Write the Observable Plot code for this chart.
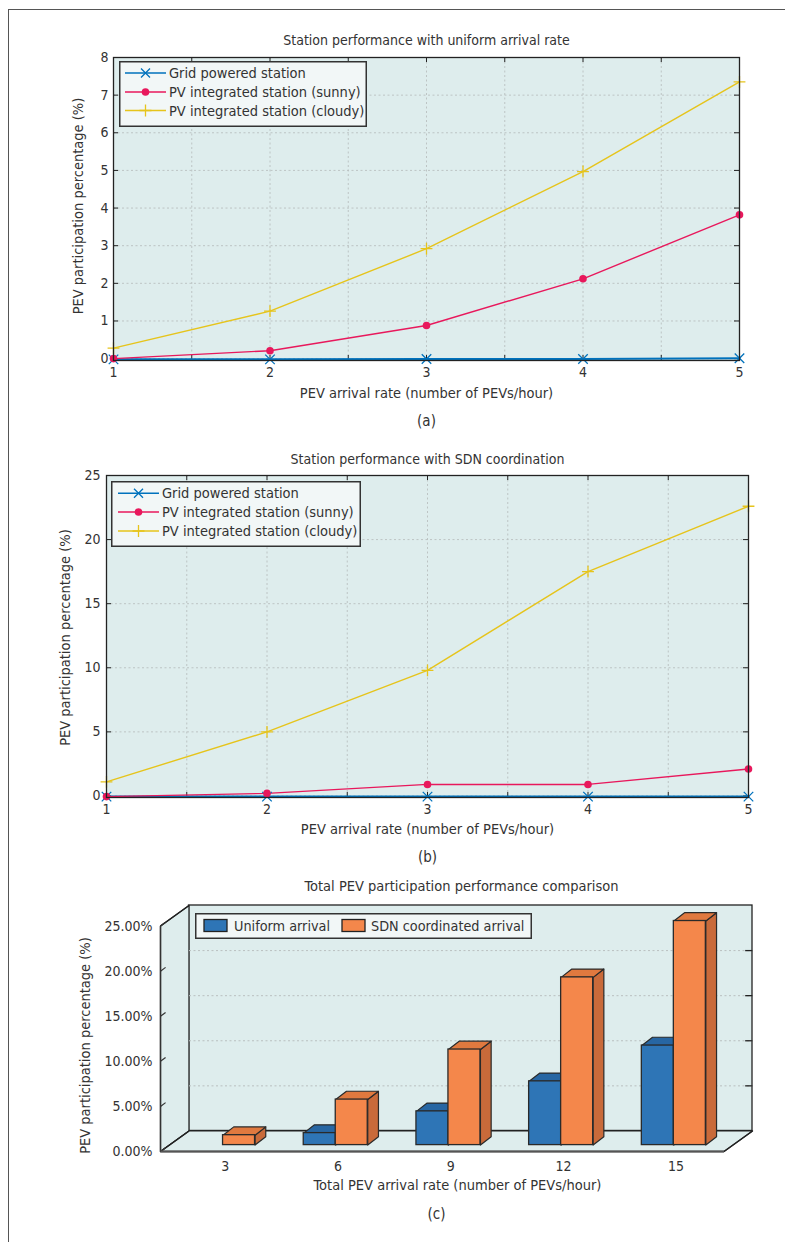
<!DOCTYPE html>
<html><head><meta charset="utf-8">
<script src="https://cdn.jsdelivr.net/npm/d3@7"></script>
<script src="https://cdn.jsdelivr.net/npm/@observablehq/plot@0.6"></script>
<style>
body{margin:0;background:#fff;}
#root{position:relative;width:785px;height:1242px;overflow:hidden;font-family:"Liberation Sans Narrow","DejaVu Sans Condensed","Arial Narrow",sans-serif;color:#333;}
.panel{position:absolute;left:0;}
.border{position:absolute;left:8px;top:9px;right:-5px;bottom:-5px;border-top:1.5px solid #555;border-left:1.5px solid #555;}
.legend{position:absolute;}
</style></head><body><div id="root"><div class="border"></div></div>
<script>
// ---------- data ----------
const rates = [1, 2, 3, 4, 5];
const seriesNames = ["Grid powered station", "PV integrated station (sunny)", "PV integrated station (cloudy)"];
const seriesColors = ["#0072bd", "#e8185c", "#e6c41b"];

// (a) uniform arrival rate
const gridA   = [-0.02, -0.02, -0.01, -0.01, 0.01];
const sunnyA  = [0.00, 0.21, 0.88, 2.12, 3.82];
const cloudyA = [0.28, 1.26, 2.92, 4.97, 7.35];
// (b) SDN coordination
const gridB   = [-0.05, -0.05, -0.05, -0.05, -0.05];
const sunnyB  = [-0.05, 0.20, 0.90, 0.90, 2.10];
const cloudyB = [1.10, 5.00, 9.80, 17.50, 22.60];
// (c) totals
const totalRates = [3, 6, 9, 12, 15];
const barNames = ["Uniform arrival", "SDN coordinated arrival"];
const uniformVals = [0.00, 1.33, 3.74, 7.07, 11.04];
const sdnVals     = [1.10, 5.05, 10.60, 18.60, 24.85];
const pctTicks = [0, 5, 10, 15, 20, 25];

const titles = ["Station performance with uniform arrival rate", "Station performance with SDN coordination", "Total PEV participation performance comparison"];
const xLabels = ["PEV arrival rate (number of PEVs/hour)", "PEV arrival rate (number of PEVs/hour)", "Total PEV arrival rate (number of PEVs/hour)"];
const yLabel = "PEV participation percentage (%)";
const captions = ["(a)", "(b)", "(c)"];

const FONT = '"Liberation Sans Narrow","DejaVu Sans Condensed","Arial Narrow",sans-serif';
const BG = "#deeded";
const root = document.getElementById("root");
const TXT = {textAnchor: "middle", lineAnchor: "middle"};

function rows(vals) { return rates.map((r, i) => ({x: r, y: vals[i]})); }

function linePanel(o) {
  const innerW = 785 - o.ml - o.mr, innerH = o.height - o.mt - o.mb;
  const xGrid = d3.range(1, 5.01, 0.5);
  const seriesVals = o.series;
  const marks = [
    Plot.frame({fill: BG}),
    Plot.ruleX(xGrid, {stroke: "#b9bfbf", strokeDasharray: "2,2.5", strokeWidth: 0.9}),
    Plot.ruleY(o.yTicks, {stroke: "#b9bfbf", strokeDasharray: "2,2.5", strokeWidth: 0.9}),
    Plot.tickX(xGrid, {x: d => d, insetTop: innerH - 5, stroke: "#222"}),
    Plot.tickX(xGrid, {x: d => d, insetBottom: innerH - 5, stroke: "#222"}),
    Plot.tickY(o.yTicks, {y: d => d, insetRight: innerW - 5, stroke: "#222"}),
    Plot.tickY(o.yTicks, {y: d => d, insetLeft: innerW - 5, stroke: "#222"})
  ];
  seriesVals.forEach((vals, k) => {
    marks.push(Plot.line(rows(vals), {x: "x", y: "y", stroke: seriesColors[k], strokeWidth: k === 0 ? 2 : 1.4}));
  });
  marks.push(Plot.dot(rows(seriesVals[0]), {x: "x", y: "y", symbol: "times", r: 4.4, stroke: seriesColors[0], strokeWidth: 1.3}));
  marks.push(Plot.dot(rows(seriesVals[1]), {x: "x", y: "y", symbol: "circle", r: 3.8, fill: seriesColors[1], stroke: "none"}));
  marks.push(Plot.dot(rows(seriesVals[2]), {x: "x", y: "y", symbol: "plus", r: 3.9, stroke: seriesColors[2], strokeWidth: 1.3}));
  marks.push(
    Plot.frame({stroke: "#222", strokeWidth: 1.3}),
    Plot.axisX(rates, {tickSize: 0, tickPadding: 7, fontSize: 14, tickFormat: d => String(d), label: null}),
    Plot.axisY(o.yTicks, {tickSize: 0, tickPadding: o.yPad, fontSize: 14, tickFormat: d => String(d), label: null}),
    Plot.text([o.title], {frameAnchor: "top", dy: o.titleDy, fontSize: 14, ...TXT}),
    Plot.text([o.xLabel], {frameAnchor: "bottom", dy: o.xLabelDy, fontSize: 14.5, ...TXT}),
    Plot.text([o.caption], {frameAnchor: "bottom", dy: o.capDy, fontSize: 15, ...TXT}),
    Plot.text([yLabel], {frameAnchor: "left", rotate: -90, dx: o.yLabelDx, dy: o.yLabelDy, fontSize: 14.5, ...TXT})
  );
  const svg = Plot.plot({
    width: 785, height: o.height,
    marginTop: o.mt, marginBottom: o.mb, marginLeft: o.ml, marginRight: o.mr,
    style: {fontFamily: FONT, fontSize: "14px", color: "#333", background: "transparent", overflow: "visible"},
    x: {domain: [1, 5]},
    y: {domain: o.yDomain},
    marks
  });
  svg.classList.add("panel");
  svg.style.top = o.top + "px";
  root.appendChild(svg);
}

linePanel({top: 0, height: 440, mt: 57, mb: 80, ml: 113, mr: 46,
  yDomain: [-0.05, 8], yTicks: d3.range(0, 9, 1), yPad: 5,
  series: [gridA, sunnyA, cloudyA],
  title: titles[0], xLabel: xLabels[0], caption: captions[0],
  titleDy: -17, xLabelDy: 33, capDy: 61, yLabelDx: -35, yLabelDy: -3});

linePanel({top: 440, height: 430, mt: 35, mb: 73, ml: 106, mr: 37,
  yDomain: [-0.12, 25], yTicks: d3.range(0, 26, 5), yPad: 6,
  series: [gridB, sunnyB, cloudyB],
  title: titles[1], xLabel: xLabels[1], caption: captions[1],
  titleDy: -16, xLabelDy: 32, capDy: 60, yLabelDx: -41, yLabelDy: 1});

// ---------- legends for (a) and (b) ----------
function lineLegend(left, top, w, h, rowYs, lx1, lx2, tx) {
  const svg = d3.create("svg").attr("class", "legend").attr("width", w).attr("height", h)
    .style("left", left + "px").style("top", top + "px");
  svg.append("rect").attr("x", 0.75).attr("y", 0.75).attr("width", w - 1.5).attr("height", h - 1.5)
    .attr("fill", "#f2f7f7").attr("stroke", "#333").attr("stroke-width", 1.5);
  seriesNames.forEach((name, k) => {
    const y = rowYs[k], c = seriesColors[k], mx = (lx1 + lx2) / 2;
    svg.append("line").attr("x1", lx1).attr("x2", lx2).attr("y1", y).attr("y2", y).attr("stroke", c).attr("stroke-width", 1.4);
    if (k === 0) svg.append("path").attr("d", `M${mx-4.5},${y-4.5}L${mx+4.5},${y+4.5}M${mx-4.5},${y+4.5}L${mx+4.5},${y-4.5}`).attr("stroke", c).attr("stroke-width", 1.3);
    if (k === 1) svg.append("circle").attr("cx", mx).attr("cy", y).attr("r", 3.8).attr("fill", c);
    if (k === 2) svg.append("path").attr("d", `M${mx-6},${y}L${mx+6},${y}M${mx},${y-6}L${mx},${y+6}`).attr("stroke", c).attr("stroke-width", 1.3);
    svg.append("text").attr("x", tx).attr("y", y).attr("dy", "0.35em").attr("font-size", 14.5)
      .attr("font-family", FONT).attr("fill", "#333").text(name);
  });
  root.appendChild(svg.node());
}
lineLegend(119, 61, 248, 66, [12, 31, 49.5], 6, 47, 50);
lineLegend(111, 481, 250, 66, [12.3, 31, 50], 7, 48, 51);

// ---------- (c) 3D bar chart ----------
const DDX = 0.253, DDY = 2.28;          // box depth (data units)
const BX = 0.055, BY = 0.71;            // bar front-plane shift
const BW = 0.284;                       // bar width
const BDX = 0.095, BDY = 0.92;          // bar depth
const wallEdge = "#222";
const barStroke = "#2a2a2a";
const colorsFront = ["#2e75b6", "#f4874b"];
const colorsTop = ["#2766a3", "#e0793f"];
const colorsSide = ["#245d94", "#c96a3a"];

const leftWall = [{x: 0, y: 0}, {x: DDX, y: DDY}, {x: DDX, y: 25 + DDY}, {x: 0, y: 25}];
const floor = [{x: 0, y: 0}, {x: 5, y: 0}, {x: 5 + DDX, y: DDY}, {x: DDX, y: DDY}];
const edges = [
  {x1: 0, y1: 25, x2: DDX, y2: 25 + DDY},
  {x1: 5, y1: 0, x2: 5 + DDX, y2: DDY},
  {x1: 0, y1: 0, x2: DDX, y2: DDY}
];
const gridLines = pctTicks.slice(1, 5).map(v => ({x1: DDX, x2: 5 + DDX, y1: v + DDY, y2: v + DDY}));
const rightTicks = pctTicks.slice(1, 5).map(v => ({x1: 5 + DDX - 0.065, x2: 5 + DDX, y1: v + DDY, y2: v + DDY}));
const leftTicks = pctTicks.map(v => ({x1: 0, y1: v, x2: 0.045, y2: v + 0.42}));

function barGeom(s, vals) {
  const fronts = [], tops = [], sides = [];
  vals.forEach((v, i) => {
    if (!(v > 0)) return;
    const x1 = i + 0.5 + BX + (s - 1) * BW, x2 = x1 + BW, y1 = BY, y2 = BY + v;
    fronts.push({x1, x2, y1, y2});
    const id = s + "-" + i;
    tops.push({id, x: x1, y: y2}, {id, x: x2, y: y2}, {id, x: x2 + BDX, y: y2 + BDY}, {id, x: x1 + BDX, y: y2 + BDY});
    sides.push({id, x: x2, y: y1}, {id, x: x2 + BDX, y: y1 + BDY}, {id, x: x2 + BDX, y: y2 + BDY}, {id, x: x2, y: y2});
  });
  return {fronts, tops, sides};
}
const barSeries = [uniformVals, sdnVals];
const barMarks = [];
barSeries.forEach((vals, s) => {
  const g = barGeom(s, vals);
  barMarks.push(
    Plot.line(g.sides, {x: "x", y: "y", z: "id", curve: "linear-closed", fill: colorsSide[s], stroke: barStroke, strokeWidth: 1.2}),
    Plot.line(g.tops, {x: "x", y: "y", z: "id", curve: "linear-closed", fill: colorsTop[s], stroke: barStroke, strokeWidth: 1.2}),
    Plot.rect(g.fronts, {x1: "x1", x2: "x2", y1: "y1", y2: "y2", fill: colorsFront[s], stroke: barStroke, strokeWidth: 1.3})
  );
});
const catLabels = totalRates.map((r, i) => ({x: i + 0.5 + BX + 0.02, label: String(r)}));

const svgC = Plot.plot({
  width: 785, height: 372,
  marginTop: 35, marginBottom: 91, marginLeft: 160, marginRight: 33,
  style: {fontFamily: FONT, fontSize: "14px", color: "#333", background: "transparent", overflow: "visible"},
  x: {domain: [0, 5 + DDX], axis: null},
  y: {domain: [0, 25 + DDY], axis: null},
  marks: [
    Plot.rect([0], {x1: () => DDX, x2: () => 5 + DDX, y1: () => DDY, y2: () => 25 + DDY, fill: BG, stroke: wallEdge, strokeWidth: 1.3}),
    Plot.line(leftWall, {x: "x", y: "y", curve: "linear-closed", fill: BG, stroke: wallEdge, strokeWidth: 1.3}),
    Plot.line(floor, {x: "x", y: "y", curve: "linear-closed", fill: BG, stroke: wallEdge, strokeWidth: 1.3}),
    Plot.link(gridLines, {x1: "x1", y1: "y1", x2: "x2", y2: "y2", stroke: "#b9bfbf", strokeDasharray: "2,2.5", strokeWidth: 1}),
    Plot.link(rightTicks, {x1: "x1", y1: "y1", x2: "x2", y2: "y2", stroke: "#222", strokeWidth: 1.3}),
    Plot.link(edges, {x1: "x1", y1: "y1", x2: "x2", y2: "y2", stroke: wallEdge, strokeWidth: 1.3}),
    Plot.link([{x1: 0, y1: 0, x2: 0, y2: 25}], {x1: "x1", y1: "y1", x2: "x2", y2: "y2", stroke: "#333", strokeWidth: 1.4}),
    Plot.link(leftTicks, {x1: "x1", y1: "y1", x2: "x2", y2: "y2", stroke: "#333", strokeWidth: 1.2}),
    ...barMarks,
    Plot.link([{x1: 0, y1: 0, x2: 5, y2: 0}], {x1: "x1", y1: "y1", x2: "x2", y2: "y2", stroke: "#555", strokeWidth: 2.2}),
    Plot.axisY(pctTicks, {tickSize: 0, tickPadding: 8, fontSize: 14, tickFormat: d => d.toFixed(2) + "%", label: null}),
    Plot.text(catLabels, {x: "x", y: () => 0, text: "label", dy: 15, fontSize: 14, ...TXT}),
    Plot.text([titles[2]], {frameAnchor: "top", dx: 5, dy: -19, fontSize: 14.5, ...TXT}),
    Plot.text([xLabels[2]], {frameAnchor: "bottom", dx: 1, dy: 34, fontSize: 14.5, ...TXT}),
    Plot.text([captions[2]], {frameAnchor: "bottom", dx: -20, dy: 63, fontSize: 15, ...TXT}),
    Plot.text([yLabel], {frameAnchor: "left", rotate: -90, dx: -75, dy: 17, fontSize: 14.5, ...TXT})
  ]
});
svgC.classList.add("panel");
svgC.style.top = "870px";
root.appendChild(svgC);

// legend (c)
(function () {
  const w = 337, h = 26;
  const svg = d3.create("svg").attr("class", "legend").attr("width", w).attr("height", h)
    .style("left", "195px").style("top", "912.7px");
  svg.append("rect").attr("x", 0.75).attr("y", 0.75).attr("width", w - 1.5).attr("height", h - 1.5)
    .attr("fill", "#f2f7f7").attr("stroke", "#333").attr("stroke-width", 1.5);
  const sx = [9, 147], tx = [39, 176];
  barNames.forEach((name, s) => {
    svg.append("rect").attr("x", sx[s]).attr("y", 6.5).attr("width", 23).attr("height", 12)
      .attr("fill", colorsFront[s]).attr("stroke", "#222").attr("stroke-width", 1.3);
    svg.append("text").attr("x", tx[s]).attr("y", 13).attr("dy", "0.35em").attr("font-size", 14.3)
      .attr("font-family", FONT).attr("fill", "#333").text(name);
  });
  root.appendChild(svg.node());
})();
</script>
</body></html>
